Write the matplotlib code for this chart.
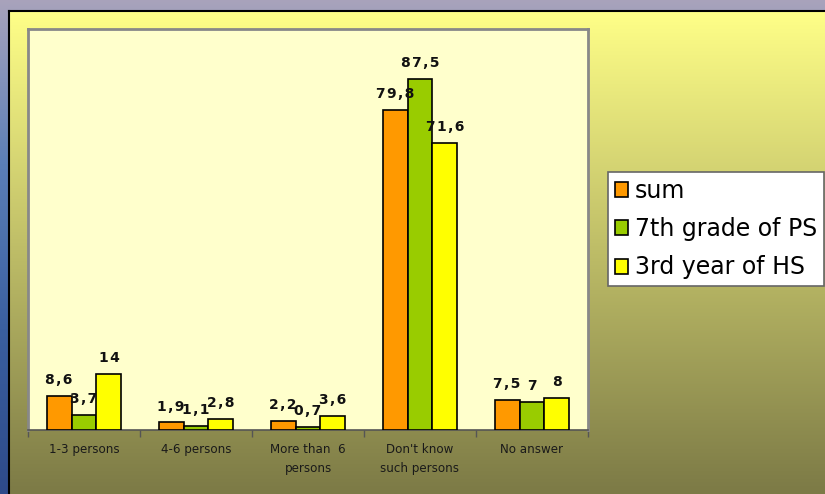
import numpy as np
import matplotlib
matplotlib.use("Agg")
import matplotlib.pyplot as plt
from matplotlib.colors import LinearSegmentedColormap

categories = ["1-3 persons", "4-6 persons", "More than  6\npersons", "Don't know\nsuch persons", "No answer"]
series_names = ["sum", "7th grade of PS", "3rd year of HS"]
sum_vals = [8.6, 1.9, 2.2, 79.8, 7.5]
ps7_vals = [3.7, 1.1, 0.7, 87.5, 7.0]
hs3_vals = [14.0, 2.8, 3.6, 71.6, 8.0]
colors = ["#FF9900", "#99CC00", "#FFFF00"]

W, H = 825, 494
fig = plt.figure(figsize=(W / 100, H / 100), dpi=100)

# background (blue)
bg = fig.add_axes([0, 0, 1, 1])
bg.set_axis_off()
grad = np.linspace(0, 1, 256).reshape(-1, 1)
blue = LinearSegmentedColormap.from_list("b", ["#A9A3BC", "#5B7FB8", "#3A5FA0", "#2E4A8A"])
bg.imshow(grad, aspect="auto", cmap=blue, extent=[0, 1, 0, 1], origin="upper")

# yellow panel
px0, py0 = 9 / W, 11 / H
panel = fig.add_axes([px0, 0, 1 - px0, 1 - py0])
ymap = LinearSegmentedColormap.from_list("y", ["#FFFF88", "#7C7A46"])
panel.imshow(grad, aspect="auto", cmap=ymap, origin="upper", extent=[0, 1, 0, 1])
panel.set_xticks([]); panel.set_yticks([])
for s in ["right", "bottom"]:
    panel.spines[s].set_visible(False)
for s in ["left", "top"]:
    panel.spines[s].set_color("black")
    panel.spines[s].set_linewidth(1.5)

# main plot
left, right, top, bottom = 28, 588, 29, 430
ax = fig.add_axes([left / W, 1 - bottom / H, (right - left) / W, (bottom - top) / H])
ax.set_facecolor("#FFFFCC")
x = np.arange(len(categories))
bw = 0.223
sp = "\u200A"
for i, (vals, name, c) in enumerate(zip([sum_vals, ps7_vals, hs3_vals], series_names, colors)):
    pos = x + (i - 1) * bw
    ax.bar(pos, vals, bw, color=c, edgecolor="black", linewidth=1.2, label=name, zorder=3)
    for p, v in zip(pos, vals):
        lab = ("%g" % v).replace(".", ",")
        lab = sp.join(lab)
        ax.text(p, v + 2.2, lab, ha="center", va="bottom", fontsize=10, fontweight="bold",
                color="#111111", zorder=4)

ax.set_xlim(-0.5, len(categories) - 0.5)
ax.set_ylim(0, 100)
ax.set_yticks([])
ax.set_xticks(np.arange(-0.5, len(categories), 1))
ax.set_xticklabels([])
ax.set_xticks(x, minor=True)
ax.set_xticklabels(categories, minor=True, fontsize=8.6, color="#1a1a1a", linespacing=1.65)
ax.tick_params(axis="x", which="major", length=5, width=1, color="#555555", direction="out")
ax.tick_params(axis="x", which="minor", length=0, pad=9)
for s in ["left", "top", "right"]:
    ax.spines[s].set_color("#888888")
    ax.spines[s].set_linewidth(2)
ax.spines["bottom"].set_color("#555555")
ax.spines["bottom"].set_linewidth(1.2)

handles, labels = ax.get_legend_handles_labels()
leg = fig.legend(handles, labels, loc="upper left", bbox_to_anchor=(608 / W, 1 - 172 / H),
                 fontsize=17, frameon=True, fancybox=False, framealpha=1,
                 handlelength=0.55, handleheight=0.6,
                 handletextpad=0.3, labelspacing=0.6, borderpad=0.3, borderaxespad=0)
leg.get_frame().set_facecolor("white")
leg.get_frame().set_edgecolor("#666666")
leg.get_frame().set_linewidth(1.2)

fig.savefig("out.png", dpi=100)
